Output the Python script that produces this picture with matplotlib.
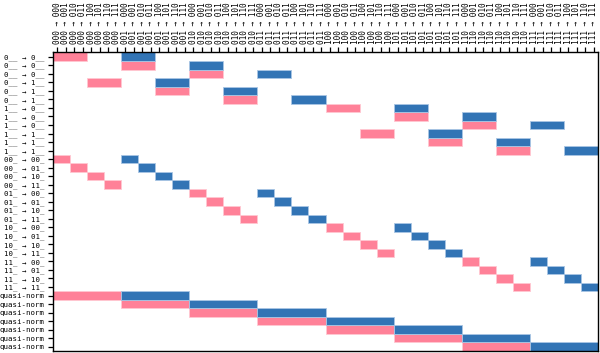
import matplotlib
matplotlib.use("Agg")
import matplotlib.pyplot as plt

bits = ["000", "001", "010", "011", "100", "101", "110", "111"]
col_labels = [f"{a} → {b}" for a in bits for b in bits]

row_labels = (["0__ → 0__"] * 3 + ["0__ → 1__"] * 3 + ["1__ → 0__"] * 3 + ["1__ → 1__"] * 3
              + ["00_ → 00_", "00_ → 01_", "00_ → 10_", "00_ → 11_",
                 "01_ → 00_", "01_ → 01_", "01_ → 10_", "01_ → 11_",
                 "10_ → 00_", "10_ → 01_", "10_ → 10_", "10_ → 11_",
                 "11_ → 00_", "11_ → 01_", "11_ → 10_", "11_ → 11_"]
              + ["quasi-norm"] * 7)

# start column of the pink and blue segment in each row, and segment width (columns)
pink_start = [0, 8, 16, 4, 12, 20, 32, 40, 48, 36, 44, 52,
              0, 2, 4, 6, 16, 18, 20, 22, 32, 34, 36, 38, 48, 50, 52, 54,
              0, 8, 16, 24, 32, 40, 48]
blue_start = [8, 16, 24, 12, 20, 28, 40, 48, 56, 44, 52, 60,
              8, 10, 12, 14, 24, 26, 28, 30, 40, 42, 44, 46, 56, 58, 60, 62,
              8, 16, 24, 32, 40, 48, 56]
seg_width = [4] * 12 + [2] * 16 + [8] * 7

PINK = "#ff8198"
BLUE = "#3274b5"

fig = plt.figure(figsize=(6.0, 3.53), dpi=100)
ax = fig.add_axes([0.0883, 0.0057, 0.9084, 0.8456])

rows = list(range(len(row_labels)))
lefts_p = [s - 0.5 for s in pink_start]
lefts_b = [s - 0.5 for s in blue_start]
ax.barh(rows, seg_width, left=lefts_p, height=1.0, color=PINK,
        edgecolor="#ffc8d2", linewidth=0.6)
ax.barh(rows, seg_width, left=lefts_b, height=1.0, color=BLUE,
        edgecolor="#a9c6e4", linewidth=0.6)

ax.set_xlim(-0.5, len(col_labels) - 0.5)
ax.set_ylim(len(row_labels) - 0.5, -0.5)

ax.xaxis.tick_top()
ax.set_xticks(range(len(col_labels)))
ax.set_xticklabels(col_labels, rotation=90, fontsize=5.6, family="DejaVu Sans Mono")
ax.set_yticks(rows)
ax.set_yticklabels(row_labels, fontsize=5.3, family="DejaVu Sans Mono")
ax.tick_params(axis="both", length=3.5, width=0.9, pad=2.5)
for sp in ax.spines.values():
    sp.set_linewidth(1.0)

fig.savefig("out.png", dpi=100)
